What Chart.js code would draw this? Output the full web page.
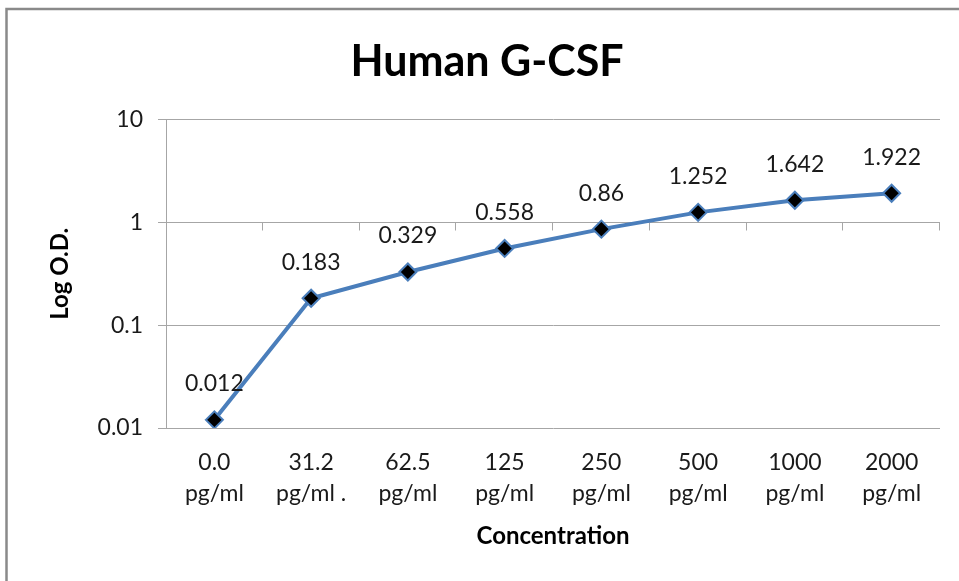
<!DOCTYPE html>
<html><head><meta charset="utf-8">
<script src="https://cdn.jsdelivr.net/npm/chart.js@4/dist/chart.umd.min.js"></script>
<style>html,body{margin:0;padding:0;background:#fff;overflow:hidden;} #wrap{position:relative;width:959px;height:581px;} canvas{display:block;}</style>
</head><body><div id="wrap"><canvas id="c" width="959" height="581" style="width:959px;height:581px;"></canvas></div>
<script>
const categories = [["0.0","pg/ml"],["31.2","pg/ml ."],["62.5","pg/ml"],["125","pg/ml"],["250","pg/ml"],["500","pg/ml"],["1000","pg/ml"],["2000","pg/ml"]];
const odValues = [0.012, 0.183, 0.329, 0.558, 0.86, 1.252, 1.642, 1.922];
const yTickValues = [0.01, 0.1, 1, 10];
const chartTitle = "Human G-CSF";
const xAxisTitle = "Concentration";
const yAxisTitle = "Log O.D.";

const FONT = "Lato";
const GRID = "#a6a6a6";
const LINE = "#4a7ebb";

const framePlugin = {
  id: 'frame',
  beforeDraw(chart) {
    const ctx = chart.ctx;
    ctx.save();
    ctx.fillStyle = '#fff';
    ctx.fillRect(0, 0, chart.width, chart.height);
    ctx.strokeStyle = '#8a8a8a';
    ctx.lineWidth = 2.5;
    ctx.beginPath();
    ctx.moveTo(6.5, chart.height + 2);
    ctx.lineTo(6.5, 9);
    ctx.lineTo(chart.width + 2, 9);
    ctx.stroke();
    ctx.restore();
  }
};

const crossAxisPlugin = {
  id: 'crossAxis',
  beforeDatasetsDraw(chart) {
    const ctx = chart.ctx;
    const y = chart.scales.y;
    const yc = Math.round(y.getPixelForValue(1)) + 0.5;
    const left = chart.chartArea.left, right = chart.chartArea.right;
    const n = categories.length;
    const w = (right - left) / n;
    ctx.save();
    ctx.strokeStyle = GRID;
    ctx.lineWidth = 1;
    ctx.beginPath();
    ctx.moveTo(left, yc); ctx.lineTo(right, yc);
    for (let i = 1; i <= n; i++) {
      const xp = Math.round(left + i * w) - 0.5;
      ctx.moveTo(xp, yc); ctx.lineTo(xp, yc + 8);
    }
    ctx.stroke();
    ctx.restore();
  }
};

const labelPlugin = {
  id: 'pointLabels',
  afterDatasetsDraw(chart) {
    const ctx = chart.ctx;
    const meta = chart.getDatasetMeta(0);
    ctx.save();
    ctx.font = `23px ${FONT}`;
    ctx.fillStyle = '#1a1a1a';
    ctx.textAlign = 'center';
    ctx.textBaseline = 'middle';
    meta.data.forEach((pt, i) => {
      ctx.fillText(String(odValues[i]), pt.x, pt.y - 36);
    });
    ctx.restore();
  }
};

new Chart(document.getElementById('c'), {
  type: 'line',
  data: {
    labels: categories,
    datasets: [{
      data: odValues,
      borderColor: LINE,
      borderWidth: 4,
      tension: 0,
      pointStyle: 'rectRot',
      pointRadius: 8.5,
      pointHoverRadius: 8.5,
      pointBackgroundColor: '#000',
      pointBorderColor: LINE,
      pointBorderWidth: 2
    }]
  },
  options: {
    responsive: false,
    animation: false,
    devicePixelRatio: 1,
    layout: { padding: { left: 34, right: 19, top: 0, bottom: 0 } },
    plugins: {
      legend: { display: false },
      tooltip: { enabled: false },
      title: {
        display: true,
        text: chartTitle,
        color: '#000',
        font: { family: FONT, size: 43, weight: 'bold', lineHeight: 1.2 },
        padding: { top: 36, bottom: 32 }
      }
    },
    scales: {
      x: {
        type: 'category',
        offset: true,
        grid: { display: false, drawTicks: false },
        border: { display: false },
        ticks: {
          color: '#1a1a1a',
          font: { family: FONT, size: 23, lineHeight: 1.35 },
          padding: 19,
          maxRotation: 0,
          autoSkip: false
        },
        title: {
          display: true,
          text: xAxisTitle,
          color: '#000',
          font: { family: FONT, size: 24, weight: 'bold', lineHeight: 1.2 },
          padding: { top: 0, bottom: 30 }
        },
        afterFit(scale) { scale.height = 153; }
      },
      y: {
        type: 'logarithmic',
        min: 0.01,
        max: 10,
        grid: { color: GRID, lineWidth: 1, tickLength: 8, drawTicks: true },
        border: { display: true, color: GRID, width: 1 },
        afterBuildTicks(scale) { scale.ticks = yTickValues.map(v => ({ value: v })); },
        ticks: {
          color: '#1a1a1a',
          font: { family: FONT, size: 23 },
          padding: 15,
          callback: (v) => String(v)
        },
        title: {
          display: true,
          text: yAxisTitle,
          color: '#000',
          font: { family: FONT, size: 24, weight: 'bold', lineHeight: 1.2 },
          padding: { top: 12, bottom: 0 }
        },
        afterFit(scale) { scale.width = 132; }
      }
    }
  },
  plugins: [framePlugin, crossAxisPlugin, labelPlugin]
});
</script>
</body></html>
